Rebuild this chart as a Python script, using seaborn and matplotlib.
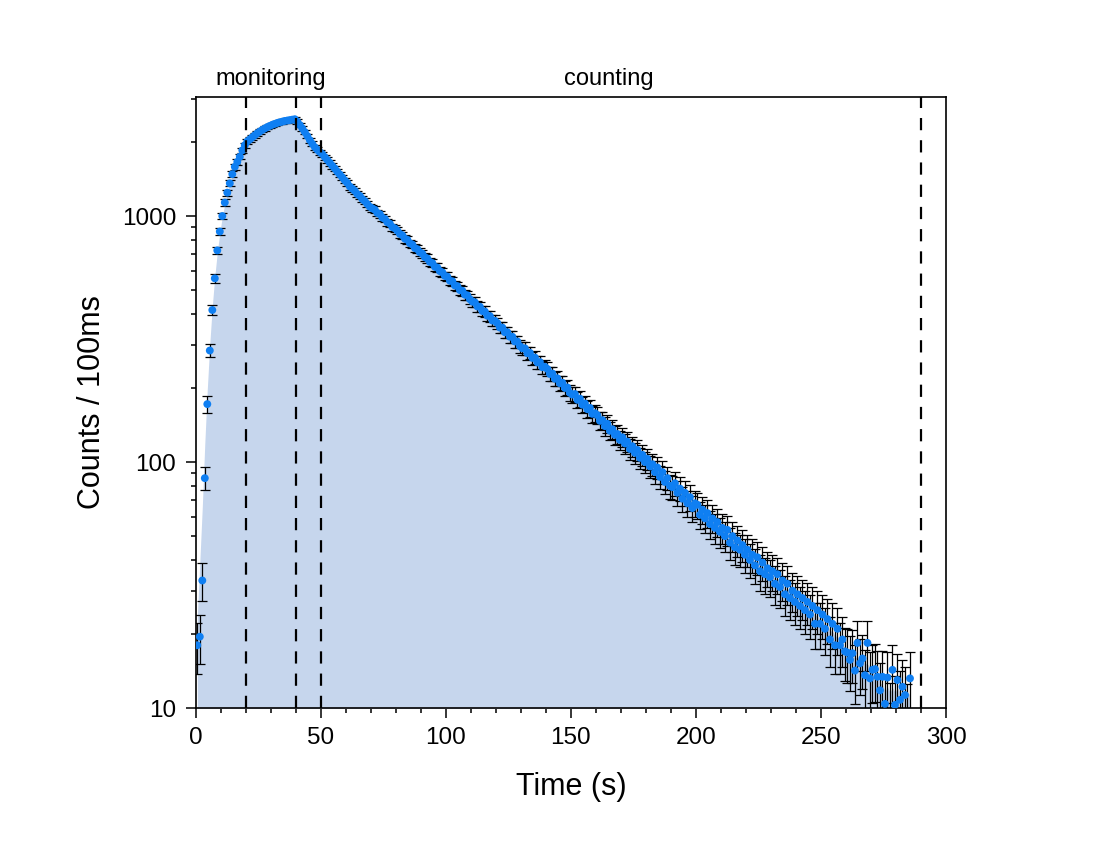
import numpy as np
import pandas as pd
import matplotlib
matplotlib.use("Agg")
import matplotlib.pyplot as plt
import matplotlib.ticker as mticker
import seaborn as sns

# 1 s time bins, counts per 100 ms
time = np.arange(286) + 0.6
counts = [
    # filling up (0.6 .. 20.6 s)
    18, 19.5, 33, 86, 172, 284, 415, 558, 725, 865,
    1000, 1135, 1245, 1358, 1480, 1585, 1660, 1742, 1850, 1940,
    2010,
    # monitoring (21.6 .. 39.6 s)
    2050, 2090, 2130, 2170, 2205, 2240, 2270, 2300, 2325, 2350,
    2370, 2390, 2405, 2420, 2435, 2445, 2455, 2465, 2475,
    # emptying (40.6 .. 59.6 s)
    2420, 2345, 2270, 2195, 2115, 2035, 1965, 1905, 1860, 1820,
    1785, 1735, 1690, 1645, 1600, 1560, 1515, 1475, 1435, 1395,
    # 60.6 .. 279.6 s
    1362, 1318, 1291, 1266, 1228, 1207, 1172, 1150, 1118, 1090,
    1074, 1061, 1029, 1018, 985, 973, 944, 931, 902, 891,
    872, 846, 835, 809, 801, 775, 766, 741, 733, 712,
    703, 680, 672, 651, 644, 622, 617, 597, 590, 571,
    567, 546, 543, 522, 519, 500, 497, 479, 476, 459,
    449, 446, 429, 428, 411, 409, 393, 392, 376, 375,
    367, 352, 352, 337, 337, 323, 323, 309, 309, 296,
    290, 290, 277, 278, 265, 266, 254, 255, 243, 244,
    239, 228, 229, 218, 219, 209, 210, 200, 201, 191,
    188, 189, 179, 181, 171, 173, 164, 166, 157, 158,
    155, 147, 148, 140, 143, 134, 136, 129, 130, 123,
    126, 119, 121, 113, 116, 109, 112, 104, 107, 100,
    103, 96, 98, 91, 95, 87, 91, 83, 86, 80,
    79, 82, 75, 78, 71, 75, 68, 72, 65, 68,
    67, 61, 64, 59, 62, 56, 59, 54, 57, 52,
    54, 50, 53, 47, 50, 45, 48, 44, 46, 42,
    44, 40, 42, 38, 41, 36, 39, 35, 37, 34,
    36, 32, 35, 31, 33, 29, 32, 28, 30, 27,
    29, 26, 28, 25, 27, 24, 26, 22, 25, 22,
    24, 21, 23, 19, 22, 18, 21, 18, 19, 17,
    16.8, 15.7, 16.7, 14.2, 18.4, 15.2, 15.9, 13.6, 18.4, 13.2,
    14.3, 14.4, 13.4, 11.8, 13.4, 10.4, 13.3, 9.6, 14.3, 10.3,
    # 280.6 .. 285.6 s
    13.0, 10.8, 12.2, 11.3, 9.5, 13.2,
]

cuts = [20, 40, 50, 290]
phases = ["monitoring", "counting"]

df = pd.DataFrame({"time": time, "counts": counts})
df["err"] = np.sqrt(df["counts"])
smooth = df["counts"].rolling(5, center=True, min_periods=1).mean()

sns.set_style("ticks")
plt.rcParams["font.family"] = ["Liberation Sans", "DejaVu Sans"]
plt.rcParams["text.color"] = "black"
plt.rcParams["axes.labelcolor"] = "black"
plt.rcParams["xtick.color"] = "black"
plt.rcParams["ytick.color"] = "black"

fig, ax = plt.subplots(figsize=(11, 8.5), dpi=100)
fig.subplots_adjust(left=0.178, right=0.86, top=0.886, bottom=0.167)

ax.fill_between(df["time"], smooth, 1, color="#c6d6ed", lw=0, zorder=1)
ax.errorbar(df["time"], df["counts"], yerr=df["err"], fmt="none",
            ecolor="black", elinewidth=0.9, capsize=3.5, capthick=0.9, zorder=2)
sns.scatterplot(data=df, x="time", y="counts", color="#0f7ff2", s=32,
                edgecolor="none", ax=ax, zorder=3)

for c in cuts:
    ax.axvline(c, color="black", lw=1.6, ls=(0, (5.5, 4.5)), zorder=4)

# phase names centred between the cuts, just above the frame
trans = ax.get_xaxis_transform()
ax.text((cuts[0] + cuts[1]) / 2, 1.012, phases[0], transform=trans,
        ha="center", va="bottom", fontsize=17)
ax.text((cuts[1] + cuts[3]) / 2, 1.012, phases[1], transform=trans,
        ha="center", va="bottom", fontsize=17)

ax.set_yscale("log")
ax.set_xlim(0, 300)
ax.set_ylim(10, 3050)
ax.xaxis.set_major_locator(mticker.MultipleLocator(50))
ax.xaxis.set_minor_locator(mticker.MultipleLocator(10))
ax.yaxis.set_major_formatter(mticker.FuncFormatter(lambda v, p: f"{v:g}"))
ax.yaxis.set_minor_formatter(mticker.NullFormatter())

ax.tick_params(which="major", direction="out", length=7, width=1.1,
               labelsize=17.5, pad=7)
ax.tick_params(which="minor", direction="out", length=3.5, width=1.1)
for s in ax.spines.values():
    s.set_linewidth(1.2)
    s.set_color("black")

ax.set_xlabel("Time (s)", fontsize=22, labelpad=16)
ax.set_ylabel("Counts / 100ms", fontsize=22, labelpad=11)

fig.savefig("out.png", dpi=100)
